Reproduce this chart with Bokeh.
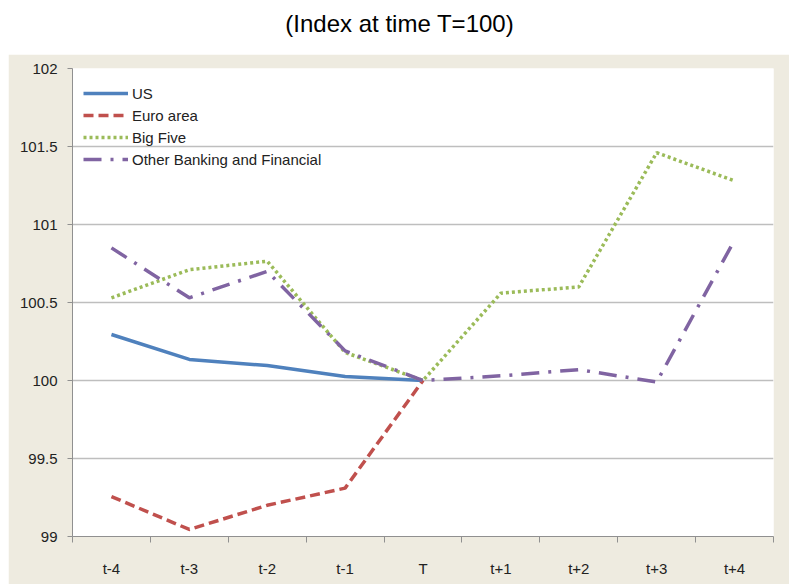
from bokeh.plotting import figure
from bokeh.models import FixedTicker, CustomJSTickFormatter, NumeralTickFormatter, Div, Spacer, Legend, LegendItem
from bokeh.layouts import column, row
from bokeh.embed import file_html
from bokeh.resources import INLINE

categories = ["t-4", "t-3", "t-2", "t-1", "T", "t+1", "t+2", "t+3", "t+4"]
us = [100.295, 100.135, 100.096, 100.026, 100.0]
euro = [99.256, 99.045, 99.20, 99.31, 100.0]
big_five = [100.53, 100.71, 100.765, 100.18, 100.0, 100.56, 100.60, 101.46, 101.28]
other = [100.85, 100.53, 100.70, 100.19, 100.0, 100.03, 100.07, 99.99, 100.9]
y_ticks = [99, 99.5, 100, 100.5, 101, 101.5, 102]

FONT = "Liberation Sans Narrow, Liberation Sans, sans-serif"
BEIGE = "#EEEBE0"

xpos = [i + 0.5 for i in range(len(categories))]

p = figure(width=781, height=530, output_backend="svg", toolbar_location=None,
           x_range=(0, len(categories)), y_range=(99, 102),
           min_border_left=64, min_border_right=16, min_border_top=14, min_border_bottom=48)
p.border_fill_color = BEIGE
p.background_fill_color = "white"
p.outline_line_color = None

p.xgrid.visible = False
p.ygrid.grid_line_color = "#BEBEBE"
p.ygrid.grid_line_width = 1.5
p.ygrid.ticker = FixedTicker(ticks=y_ticks)

p.yaxis.ticker = FixedTicker(ticks=y_ticks)
p.yaxis.formatter = NumeralTickFormatter(format="0.[0]")
p.yaxis.axis_line_color = "#909090"
p.yaxis.major_tick_line_color = "#909090"
p.yaxis.major_tick_out = 5
p.yaxis.major_tick_in = 0
p.yaxis.minor_tick_line_color = None
p.yaxis.major_label_text_font = FONT
p.yaxis.major_label_text_font_size = "15px"
p.yaxis.major_label_text_color = "#222222"
p.yaxis.major_label_standoff = 10

p.xaxis.ticker = FixedTicker(ticks=xpos, minor_ticks=list(range(len(categories) + 1)))
p.xaxis.formatter = CustomJSTickFormatter(args=dict(labels=categories),
                                          code="return labels[Math.floor(tick)];")
p.xaxis.axis_line_color = "#909090"
p.xaxis.major_tick_line_color = None
p.xaxis.minor_tick_line_color = "#909090"
p.xaxis.minor_tick_out = 6
p.xaxis.minor_tick_in = 0
p.xaxis.major_label_text_font = FONT
p.xaxis.major_label_text_font_size = "15px"
p.xaxis.major_label_text_color = "#222222"
p.xaxis.major_label_standoff = 17

lw = 3.5
r_us = p.line(xpos[:len(us)], us, line_color="#4F81BD", line_width=lw)
r_eu = p.line(xpos[:len(euro)], euro, line_color="#C0504D", line_width=lw, line_dash="10 5")
r_bf = p.line(xpos, big_five, line_color="#9BBB59", line_width=lw, line_dash="3 3")
r_ot = p.line(xpos, other, line_color="#8064A2", line_width=lw, line_dash="18 9 3 9")

legend = Legend(items=[LegendItem(label="US", renderers=[r_us]),
                       LegendItem(label="Euro area", renderers=[r_eu]),
                       LegendItem(label="Big Five", renderers=[r_bf]),
                       LegendItem(label="Other Banking and Financial", renderers=[r_ot])],
                location=(11, 366))
legend.background_fill_alpha = 0
legend.border_line_color = None
legend.margin = 0
legend.padding = 0
legend.spacing = 0
legend.glyph_width = 45
legend.glyph_height = 22
legend.label_height = 22
legend.label_standoff = 4
legend.label_text_font = FONT
legend.label_text_font_size = "15px"
legend.label_text_color = "#222222"
p.add_layout(legend)

title = Div(text="(Index at time T=100)", width=789, height=54, margin=0,
            styles={"font-family": "Liberation Sans, Arial, sans-serif", "font-size": "24px",
                    "color": "#000000", "text-align": "center", "padding-left": "10px",
                    "line-height": "48px", "box-sizing": "border-box"})

layout = column(title, row(Spacer(width=8, height=530, margin=0), p), spacing=0)
open("out.html", "w").write(file_html(layout, INLINE))
